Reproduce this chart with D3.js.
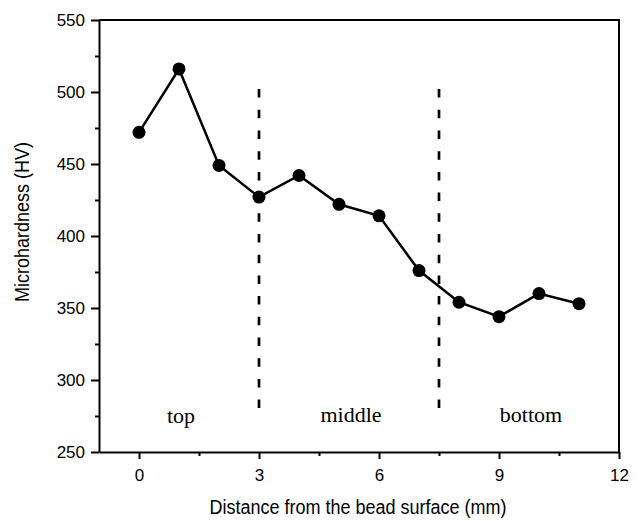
<!DOCTYPE html>
<html>
<head>
<meta charset="utf-8">
<script src="https://cdn.jsdelivr.net/npm/d3@7"></script>
<style>
  body { margin: 0; background: #fff; }
  .axis text { font-family: "Liberation Sans", Arial, sans-serif; font-size: 17px; fill: #000; }
  .axis path, .axis line { stroke: #000; stroke-width: 2px; }
  .title { font-family: "Liberation Sans", Arial, sans-serif; font-size: 18px; }
</style>
</head>
<body>
<div id="chart"></div>
<script>
// distance from bead surface (mm) and measured hardness
var distance = [0, 1, 2, 3, 4, 5, 6, 7, 8, 9, 10, 11];
var hardness = [472, 516, 449, 427, 442, 422, 414, 376, 354, 344, 360, 353];

// zone boundaries (dashed) and zone labels
var boundaries = [3, 7.5];
var boundaryRange = [280, 502];
var zoneNames = ["top", "middle", "bottom"];
var zoneX = [1.05, 5.3, 9.8];
var zoneY = [270, 270.5, 271];

var xTicks = [0, 3, 6, 9, 12];
var xMinor = [1.5, 4.5, 7.5, 10.5];
var yTicks = [250, 300, 350, 400, 450, 500, 550];
var yMinor = [275, 325, 375, 425, 475, 525];

var chartWidth = 640, chartHeight = 521;
var margin = {top: 20, right: 21, bottom: 69, left: 99};
var width = chartWidth - margin.left - margin.right,
    height = chartHeight - margin.top - margin.bottom;

var x = d3.scaleLinear().domain([-1, 12]).range([0, width]);
var y = d3.scaleLinear().domain([250, 550]).range([height, 0]);

var svg = d3.select("#chart").append("svg")
    .attr("width", chartWidth)
    .attr("height", chartHeight)
  .append("g")
    .attr("transform", "translate(" + margin.left + "," + margin.top + ")");

// frame top and right
svg.append("path")
    .attr("d", "M0,0H" + width + "V" + height)
    .attr("fill", "none")
    .attr("stroke", "#000")
    .attr("stroke-width", 2);

// minor ticks first so major axis draws over
svg.append("g")
    .attr("class", "axis")
    .attr("transform", "translate(0," + height + ")")
    .call(d3.axisBottom(x).tickValues(xMinor).tickSize(4).tickFormat(""))
    .select(".domain").remove();

svg.append("g")
    .attr("class", "axis")
    .call(d3.axisLeft(y).tickValues(yMinor).tickSize(4).tickFormat(""))
    .select(".domain").remove();

svg.append("g")
    .attr("class", "axis")
    .attr("transform", "translate(0," + height + ")")
    .call(d3.axisBottom(x).tickValues(xTicks).tickSize(7).tickSizeOuter(0).tickPadding(10));

svg.append("g")
    .attr("class", "axis")
    .call(d3.axisLeft(y).tickValues(yTicks).tickSize(8).tickSizeOuter(0).tickPadding(6));

// dashed zone boundaries
svg.selectAll(".zone-line")
    .data(boundaries)
  .enter().append("line")
    .attr("class", "zone-line")
    .attr("x1", function(d) { return x(d); })
    .attr("x2", function(d) { return x(d); })
    .attr("y1", y(boundaryRange[1]))
    .attr("y2", y(boundaryRange[0]))
    .attr("stroke", "#000")
    .attr("stroke-width", 2.7)
    .attr("stroke-dasharray", "8.5,12.2");

svg.selectAll(".zone-label")
    .data(zoneNames)
  .enter().append("text")
    .attr("class", "zone-label")
    .attr("x", function(d, i) { return x(zoneX[i]); })
    .attr("y", function(d, i) { return y(zoneY[i]); })
    .attr("text-anchor", "middle")
    .style("font-family", "'Liberation Serif', 'Times New Roman', serif")
    .style("font-size", "22px")
    .text(function(d) { return d; });

var pts = distance.map(function(d, i) { return {x: d, y: hardness[i]}; });

var line = d3.line()
    .x(function(d) { return x(d.x); })
    .y(function(d) { return y(d.y); });

svg.append("path")
    .datum(pts)
    .attr("fill", "none")
    .attr("stroke", "#000")
    .attr("stroke-width", 2.5)
    .attr("d", line);

svg.selectAll(".dot")
    .data(pts)
  .enter().append("circle")
    .attr("class", "dot")
    .attr("cx", function(d) { return x(d.x); })
    .attr("cy", function(d) { return y(d.y); })
    .attr("r", 6.5)
    .attr("fill", "#000");

// axis titles (glyphs look a bit tall in the original, so stretch them)
svg.append("text")
    .attr("class", "title")
    .attr("transform", "translate(" + (width / 2 - 1) + "," + (height + 62) + ") scale(1,1.14)")
    .attr("text-anchor", "middle")
    .text("Distance from the bead surface (mm)");

svg.append("text")
    .attr("class", "title")
    .attr("transform", "translate(-70," + (height / 2 - 14) + ") rotate(-90) scale(1,1.14)")
    .attr("text-anchor", "middle")
    .text("Microhardness (HV)");
</script>
</body>
</html>
